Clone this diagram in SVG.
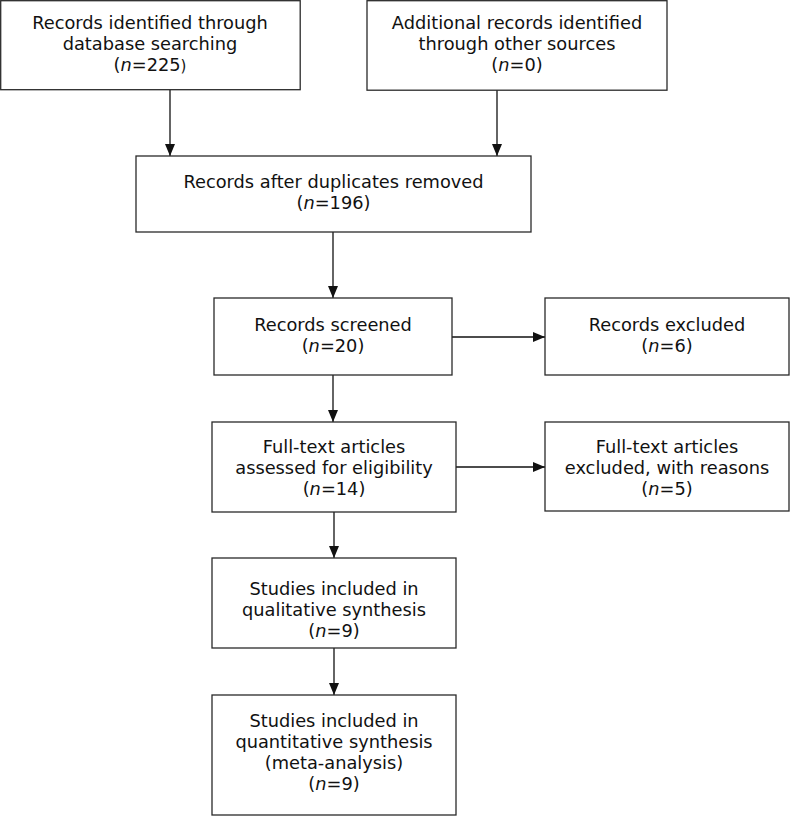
<svg xmlns="http://www.w3.org/2000/svg" width="790" height="816" viewBox="0 0 790 816">
<style>
.box{fill:#fff;stroke:#2a2a2a;stroke-width:1.3}
.t{font-family:"DejaVu Sans","Verdana",sans-serif;font-size:17.8px;fill:#111;text-anchor:middle}
.i{font-style:italic}
.c{stroke:#111;stroke-width:1.3;fill:none;marker-end:url(#ah)}
</style>
<defs>
<marker id="ah" markerUnits="userSpaceOnUse" markerWidth="12" markerHeight="10" refX="12" refY="5" orient="auto">
<path d="M0,0 L12,5 L0,10 z" fill="#111"/>
</marker>
</defs>
<rect width="790" height="816" fill="#fff"/>
<g id="connectors">
<line class="c" x1="170" y1="90" x2="170" y2="156"/>
<line class="c" x1="497" y1="90" x2="497" y2="156"/>
<line class="c" x1="333" y1="232" x2="333" y2="298"/>
<line class="c" x1="452" y1="337" x2="545" y2="337"/>
<line class="c" x1="333" y1="375" x2="333" y2="422"/>
<line class="c" x1="456" y1="467" x2="545" y2="467"/>
<line class="c" x1="334" y1="512" x2="334" y2="558"/>
<line class="c" x1="334" y1="648" x2="334" y2="695"/>
</g>
<g id="n1">
<rect class="box" x="0.7" y="0.7" width="299.5" height="89"/>
<text class="t" x="150" y="29">Records identified through</text>
<text class="t" x="150" y="50">database searching</text>
<text class="t" x="150" y="71">(<tspan class="i">n</tspan>=225<tspan font-size="15px">)</tspan></text>
</g>
<g id="n2">
<rect class="box" x="367" y="0.7" width="300" height="89.5"/>
<text class="t" x="517" y="29">Additional records identified</text>
<text class="t" x="517" y="50">through other sources</text>
<text class="t" x="517" y="71">(<tspan class="i">n</tspan>=0)</text>
</g>
<g id="n3">
<rect class="box" x="136" y="156" width="395" height="76"/>
<text class="t" x="333.5" y="188">Records after duplicates removed</text>
<text class="t" x="333.5" y="209">(<tspan class="i">n</tspan>=196)</text>
</g>
<g id="n4">
<rect class="box" x="214" y="298" width="238" height="77"/>
<text class="t" x="333" y="331">Records screened</text>
<text class="t" x="333" y="352">(<tspan class="i">n</tspan>=20)</text>
</g>
<g id="n5">
<rect class="box" x="545" y="298" width="244" height="77"/>
<text class="t" x="667" y="331">Records excluded</text>
<text class="t" x="667" y="352">(<tspan class="i">n</tspan>=6)</text>
</g>
<g id="n6">
<rect class="box" x="212" y="422" width="244" height="90"/>
<text class="t" x="334" y="453">Full-text articles</text>
<text class="t" x="334" y="474">assessed for eligibility</text>
<text class="t" x="334" y="495">(<tspan class="i">n</tspan>=14)</text>
</g>
<g id="n7">
<rect class="box" x="545" y="422" width="244" height="89"/>
<text class="t" x="667" y="453">Full-text articles</text>
<text class="t" x="667" y="474">excluded, with reasons</text>
<text class="t" x="667" y="495">(<tspan class="i">n</tspan>=5)</text>
</g>
<g id="n8">
<rect class="box" x="212" y="558" width="244" height="90"/>
<text class="t" x="334" y="595">Studies included in</text>
<text class="t" x="334" y="616">qualitative synthesis</text>
<text class="t" x="334" y="637">(<tspan class="i">n</tspan>=9)</text>
</g>
<g id="n9">
<rect class="box" x="212" y="695" width="244" height="120"/>
<text class="t" x="334" y="727">Studies included in</text>
<text class="t" x="334" y="748">quantitative synthesis</text>
<text class="t" x="334" y="769">(meta-analysis)</text>
<text class="t" x="334" y="790">(<tspan class="i">n</tspan>=9)</text>
</g>
</svg>
